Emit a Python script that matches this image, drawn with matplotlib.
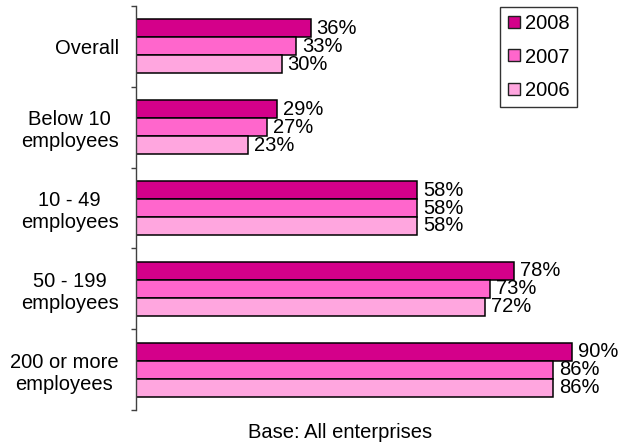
import matplotlib
matplotlib.use("Agg")
import matplotlib.pyplot as plt
from matplotlib.lines import Line2D
import numpy as np

plt.rcParams['font.family'] = ['Liberation Sans', 'DejaVu Sans']

categories = ["Overall", "Below 10\nemployees", "10 - 49\nemployees",
              "50 - 199\nemployees", "200 or more\nemployees"]
years = ["2008", "2007", "2006"]
values = {
    "2008": [36, 29, 58, 78, 90],
    "2007": [33, 27, 58, 73, 86],
    "2006": [30, 23, 58, 72, 86],
}
colors = {"2008": "#D4008A", "2007": "#FF66CC", "2006": "#FFA6DF"}

fig = plt.figure(figsize=(6.2, 4.45), dpi=100)
ax = fig.add_axes([136 / 620, 35 / 445, 485 / 620, 404 / 445])

fs = 14.5
h = 0.222
y = np.arange(len(categories))
offsets = {"2008": -h, "2007": 0.0, "2006": h}

for yr in years:
    bars = ax.barh(y + offsets[yr], values[yr], height=h, color=colors[yr],
                   edgecolor="black", linewidth=1.1, zorder=2)
    for b, v in zip(bars, values[yr]):
        ax.annotate(f"{v}%", (b.get_width(), b.get_y() + b.get_height() / 2),
                    xytext=(4.3, 0), textcoords="offset points",
                    ha="left", va="center", fontsize=fs, clip_on=False)

ax.set_xlim(0, 100)
ax.set_ylim(len(categories) - 0.5, -0.5)

for s in ["top", "right", "bottom"]:
    ax.spines[s].set_visible(False)
ax.spines["left"].set_color("#404040")
ax.spines["left"].set_linewidth(1.0)
ax.set_xticks([])

# boundary ticks between groups, labels at group centres
ax.set_yticks(np.arange(-0.5, len(categories), 1.0))
ax.set_yticklabels([])
ax.tick_params(axis="y", which="major", length=3.6, width=1.0, color="#404040",
               direction="out")
ax.set_yticks(y, minor=True)
ax.set_yticklabels(categories, minor=True, fontsize=fs, multialignment="center")
ax.tick_params(axis="y", which="minor", length=0, pad=12.5)

handles = [Line2D([0], [0], marker="s", linestyle="none", markersize=8.5,
                  markerfacecolor=colors[yr], markeredgecolor="#202020",
                  markeredgewidth=1.0) for yr in years]
leg = fig.legend(handles, years, loc="upper left",
                 bbox_to_anchor=(500 / 620, 1 - 7 / 445), borderaxespad=0,
                 fontsize=fs, frameon=True, fancybox=False, handlelength=0.7,
                 handletextpad=0.2, labelspacing=0.72, borderpad=0.35)
leg.get_frame().set_edgecolor("black")
leg.get_frame().set_linewidth(1.0)

fig.text(340 / 620, 1 - 433 / 445, "Base: All enterprises", ha="center",
         va="center", fontsize=fs)

fig.savefig("out.png", dpi=100)
